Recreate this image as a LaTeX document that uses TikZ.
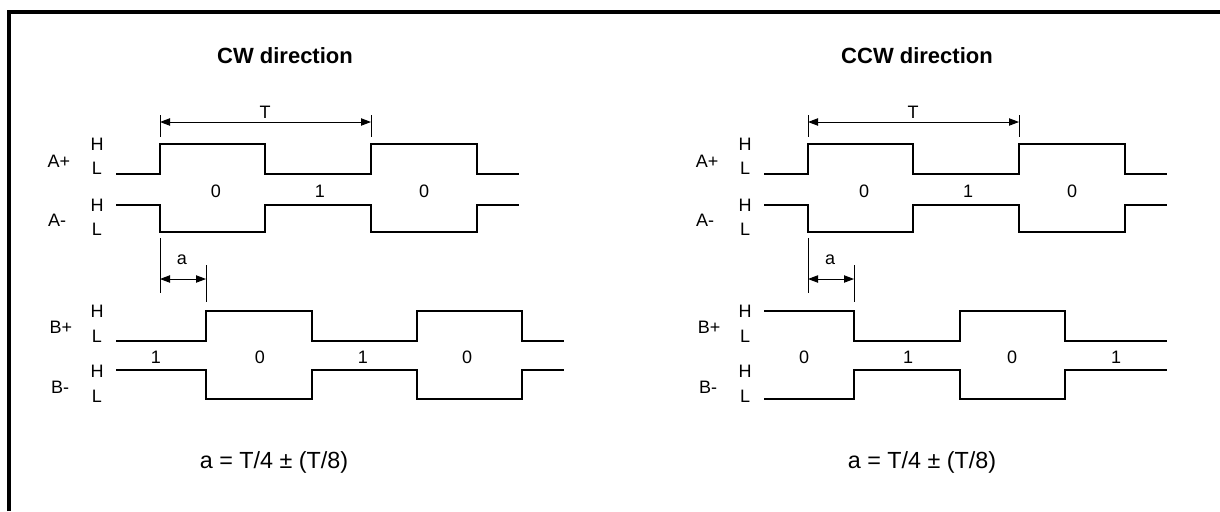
\documentclass[tikz,border=0pt]{standalone}
\usepackage{fontspec}
\setmainfont{Liberation Sans}
\usetikzlibrary{arrows.meta}

\begin{document}
\begin{tikzpicture}[x=0.75pt,y=-0.75pt,
    sig/.style={line width=1.6pt},
    tick/.style={line width=0.7pt},
    dimline/.style={line width=0.7pt,{Triangle[length=7.5pt,width=5.5pt]}-{Triangle[length=7.5pt,width=5.5pt]}},
    lbl/.style={inner sep=0pt,font=\fontsize{13.5}{15}\selectfont},
    ttl/.style={inner sep=0pt,font=\fontsize{16.5}{19}\selectfont\bfseries},
    eqn/.style={inner sep=0pt,font=\fontsize{17.5}{20}\selectfont}]
    \useasboundingbox (0,0) rectangle (1220,511);
    \draw[line width=2.8pt] (9,511)--(9,12)--(1220,12);

    % CW direction
    \node[ttl] (cwttl) at (285,56) {CW direction};
    \coordinate (cwT1) at (160,122);
    \coordinate (cwT2) at (371,122);
    \draw[tick] (160,115)--(160,137);
    \draw[tick] (371,115)--(371,137);
    \draw[dimline] (cwT1)--(cwT2);
    \node[lbl] (cwT) at (265,112) {T};
    \node[lbl] (cwAp) at (59,161) {A+};
    \node[lbl] (cwApH) at (97,144) {H};
    \node[lbl] (cwApL) at (97,168) {L};
    \node[lbl] (cwAm) at (57,220) {A-};
    \node[lbl] (cwAmH) at (97,205) {H};
    \node[lbl] (cwAmL) at (97,229) {L};
    \draw[sig] (116,174)--(160,174)--(160,144)--(265,144)--(265,174)--(371,174)--(371,144)--(477,144)--(477,174)--(519,174);
    \draw[sig] (116,205)--(160,205)--(160,232)--(265,232)--(265,205)--(371,205)--(371,232)--(477,232)--(477,205)--(519,205);
    \node[lbl] (cwA1) at (216,191) {0};
    \node[lbl] (cwA2) at (320,191) {1};
    \node[lbl] (cwA3) at (424,191) {0};
    \coordinate (cwa1) at (160,279);
    \coordinate (cwa2) at (206,279);
    \draw[tick] (160,238)--(160,293);
    \draw[tick] (206,265)--(206,302);
    \draw[dimline] (cwa1)--(cwa2);
    \node[lbl] (cwa) at (182,260) {a};
    \node[lbl] (cwBp) at (61,327) {B+};
    \node[lbl] (cwBpH) at (97,311) {H};
    \node[lbl] (cwBpL) at (97,336) {L};
    \node[lbl] (cwBm) at (60,387) {B-};
    \node[lbl] (cwBmH) at (97,371) {H};
    \node[lbl] (cwBmL) at (97,396) {L};
    \draw[sig] (116,341)--(206,341)--(206,311)--(312,311)--(312,341)--(417,341)--(417,311)--(522,311)--(522,341)--(564,341);
    \draw[sig] (116,370)--(206,370)--(206,399)--(312,399)--(312,370)--(417,370)--(417,399)--(522,399)--(522,370)--(564,370);
    \node[lbl] (cwB1) at (156,357) {1};
    \node[lbl] (cwB2) at (260,357) {0};
    \node[lbl] (cwB3) at (363,357) {1};
    \node[lbl] (cwB4) at (467,357) {0};
    \node[eqn] (cweq) at (274,462) {a = T/4 ± (T/8)};

    % CCW direction
    \node[ttl] (ccwttl) at (917,56) {CCW direction};
    \coordinate (ccwT1) at (808,122);
    \coordinate (ccwT2) at (1019,122);
    \draw[tick] (808,115)--(808,137);
    \draw[tick] (1019,115)--(1019,137);
    \draw[dimline] (ccwT1)--(ccwT2);
    \node[lbl] (ccwT) at (913,112) {T};
    \node[lbl] (ccwAp) at (707,161) {A+};
    \node[lbl] (ccwApH) at (745,144) {H};
    \node[lbl] (ccwApL) at (745,168) {L};
    \node[lbl] (ccwAm) at (705,220) {A-};
    \node[lbl] (ccwAmH) at (745,205) {H};
    \node[lbl] (ccwAmL) at (745,229) {L};
    \draw[sig] (764,174)--(808,174)--(808,144)--(913,144)--(913,174)--(1019,174)--(1019,144)--(1125,144)--(1125,174)--(1167,174);
    \draw[sig] (764,205)--(808,205)--(808,232)--(913,232)--(913,205)--(1019,205)--(1019,232)--(1125,232)--(1125,205)--(1167,205);
    \node[lbl] (ccwA1) at (864,191) {0};
    \node[lbl] (ccwA2) at (968,191) {1};
    \node[lbl] (ccwA3) at (1072,191) {0};
    \coordinate (ccwa1) at (808,279);
    \coordinate (ccwa2) at (854,279);
    \draw[tick] (808,238)--(808,293);
    \draw[tick] (854,265)--(854,302);
    \draw[dimline] (ccwa1)--(ccwa2);
    \node[lbl] (ccwa) at (830,260) {a};
    \node[lbl] (ccwBp) at (709,327) {B+};
    \node[lbl] (ccwBpH) at (745,311) {H};
    \node[lbl] (ccwBpL) at (745,336) {L};
    \node[lbl] (ccwBm) at (708,387) {B-};
    \node[lbl] (ccwBmH) at (745,371) {H};
    \node[lbl] (ccwBmL) at (745,396) {L};
    \draw[sig] (764,311)--(854,311)--(854,341)--(960,341)--(960,311)--(1065,311)--(1065,341)--(1167,341);
    \draw[sig] (764,399)--(854,399)--(854,370)--(960,370)--(960,399)--(1065,399)--(1065,370)--(1167,370);
    \node[lbl] (ccwB1) at (804,357) {0};
    \node[lbl] (ccwB2) at (908,357) {1};
    \node[lbl] (ccwB3) at (1012,357) {0};
    \node[lbl] (ccwB4) at (1116,357) {1};
    \node[eqn] (ccweq) at (922,462) {a = T/4 ± (T/8)};
\end{tikzpicture}
\end{document}
